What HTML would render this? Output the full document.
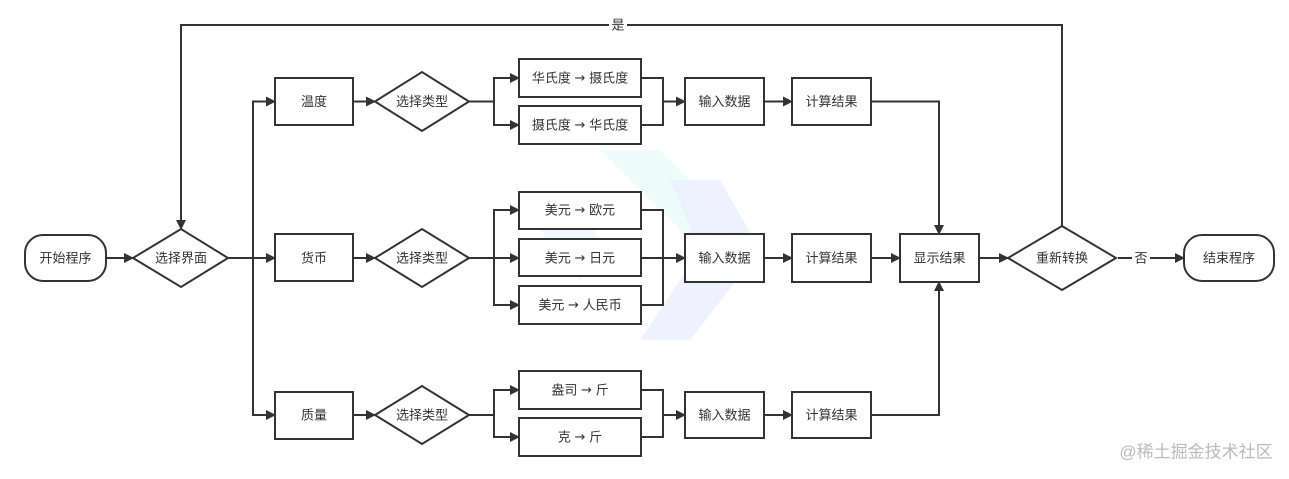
<!DOCTYPE html>
<html><head><meta charset="utf-8"><style>
html,body{margin:0;padding:0;background:#fff;}
svg{display:block;}
text{font-family:"Liberation Sans","Noto Sans CJK SC",sans-serif;font-size:13px;fill:#333;text-anchor:middle;dominant-baseline:central;}
.ar{font-family:"DejaVu Sans",sans-serif;}
.b{fill:#fff;stroke:#333;stroke-width:2;}
.l{fill:none;stroke:#333;stroke-width:2;}
</style></head><body>
<svg width="1289" height="479" viewBox="0 0 1289 479" xmlns="http://www.w3.org/2000/svg">
<defs><marker id="a" markerWidth="10" markerHeight="10" refX="9" refY="5" orient="auto" markerUnits="userSpaceOnUse"><path d="M0,0 L10,5 L0,10 Z" fill="#333"/></marker></defs>
<path d="M600,150 L660,150 L760,250 L700,250 Z" fill="#e6fbf7" opacity="0.7"/>
<path d="M670,180 L720,180 L760,250 L690,340 L640,340 L700,250 Z" fill="#eceefe" opacity="0.8"/>
<path d="M560,190 L610,250 L580,280 L540,230 Z" fill="#f0f1fe" opacity="0.6"/>
<path class="l" d="M106,258 H133" marker-end="url(#a)"/>
<path class="l" d="M228,258 H275" marker-end="url(#a)"/>
<path class="l" d="M253,258 V101.5 H275" marker-end="url(#a)"/>
<path class="l" d="M253,258 V415 H275" marker-end="url(#a)"/>
<path class="l" d="M353,101.5 H375" marker-end="url(#a)"/>
<path class="l" d="M353,258 H375" marker-end="url(#a)"/>
<path class="l" d="M353,415 H375" marker-end="url(#a)"/>
<path class="l" d="M469,101.5 H494 V78 H519" marker-end="url(#a)"/>
<path class="l" d="M494,101.5 V125 H519" marker-end="url(#a)"/>
<path class="l" d="M469,258 H519" marker-end="url(#a)"/>
<path class="l" d="M494,258 V210 H519" marker-end="url(#a)"/>
<path class="l" d="M494,258 V305 H519" marker-end="url(#a)"/>
<path class="l" d="M469,415 H494 V390 H519" marker-end="url(#a)"/>
<path class="l" d="M494,415 V437 H519" marker-end="url(#a)"/>
<path class="l" d="M641,78 H663 V125 H641"/>
<path class="l" d="M641,210 H663 V305 H641"/>
<path class="l" d="M641,390 H663 V437 H641"/>
<path class="l" d="M663,101.5 H685" marker-end="url(#a)"/>
<path class="l" d="M641,258 H685" marker-end="url(#a)"/>
<path class="l" d="M663,415 H685" marker-end="url(#a)"/>
<path class="l" d="M764,101.5 H792" marker-end="url(#a)"/>
<path class="l" d="M764,258 H792" marker-end="url(#a)"/>
<path class="l" d="M764,415 H792" marker-end="url(#a)"/>
<path class="l" d="M871,101.5 H939 V234" marker-end="url(#a)"/>
<path class="l" d="M871,258 H900" marker-end="url(#a)"/>
<path class="l" d="M871,415 H939 V282" marker-end="url(#a)"/>
<path class="l" d="M979,258 H1008" marker-end="url(#a)"/>
<path class="l" d="M1118,258 H1184" marker-end="url(#a)"/>
<path class="l" d="M1062,226 V25 H181 V229" marker-end="url(#a)"/>
<rect x="609" y="17" width="18" height="16" fill="#fff"/>
<text x="618" y="25">是</text>
<rect x="1132" y="250" width="18" height="16" fill="#fff"/>
<text x="1141" y="258">否</text>
<rect class="b" x="25" y="235" width="81" height="46" rx="18"/><text x="65.5" y="258">开始程序</text>
<polygon class="b" points="133,258 181,229 228,258 181,287"/><text x="181" y="258">选择界面</text>
<rect class="b" x="275" y="78" width="78" height="47"/><text x="314" y="101.5">温度</text>
<rect class="b" x="275" y="234" width="78" height="47"/><text x="314" y="258">货币</text>
<rect class="b" x="275" y="392" width="78" height="47"/><text x="314" y="415">质量</text>
<polygon class="b" points="375,101.5 422,72 469,101.5 422,131"/><text x="422" y="101.5">选择类型</text>
<polygon class="b" points="375,258 422,229 469,258 422,287"/><text x="422" y="258">选择类型</text>
<polygon class="b" points="375,415 422,386 469,415 422,444"/><text x="422" y="415">选择类型</text>
<rect class="b" x="519" y="59" width="122" height="38"/><text x="580" y="78">华氏度 <tspan class="ar">→</tspan> 摄氏度</text>
<rect class="b" x="519" y="106" width="122" height="38"/><text x="580" y="125">摄氏度 <tspan class="ar">→</tspan> 华氏度</text>
<rect class="b" x="519" y="192" width="122" height="37"/><text x="580" y="210">美元 <tspan class="ar">→</tspan> 欧元</text>
<rect class="b" x="519" y="239" width="122" height="37"/><text x="580" y="258">美元 <tspan class="ar">→</tspan> 日元</text>
<rect class="b" x="519" y="286" width="122" height="38"/><text x="580" y="305">美元 <tspan class="ar">→</tspan> 人民币</text>
<rect class="b" x="519" y="371" width="122" height="38"/><text x="580" y="390">盎司 <tspan class="ar">→</tspan> 斤</text>
<rect class="b" x="519" y="418" width="122" height="38"/><text x="580" y="437">克 <tspan class="ar">→</tspan> 斤</text>
<rect class="b" x="685" y="78" width="79" height="47"/><text x="724.5" y="101.5">输入数据</text>
<rect class="b" x="685" y="234" width="79" height="48"/><text x="724.5" y="258">输入数据</text>
<rect class="b" x="685" y="392" width="79" height="46"/><text x="724.5" y="415">输入数据</text>
<rect class="b" x="792" y="78" width="79" height="47"/><text x="831.5" y="101.5">计算结果</text>
<rect class="b" x="792" y="234" width="79" height="48"/><text x="831.5" y="258">计算结果</text>
<rect class="b" x="792" y="392" width="79" height="46"/><text x="831.5" y="415">计算结果</text>
<rect class="b" x="900" y="234" width="79" height="48"/><text x="939.5" y="258">显示结果</text>
<polygon class="b" points="1008,258 1062,226 1116,258 1062,290"/><text x="1062" y="258">重新转换</text>
<rect class="b" x="1184" y="235" width="90" height="46" rx="18"/><text x="1229" y="258">结束程序</text>
<text x="1196" y="452" style="font-size:17px;fill:#bbb">@稀土掘金技术社区</text>
</svg>
</body></html>
